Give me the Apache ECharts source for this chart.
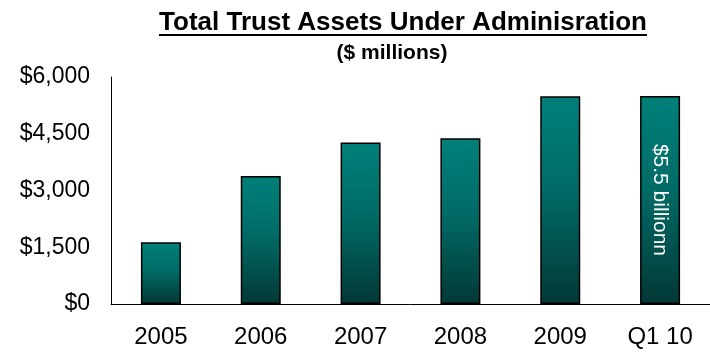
<!DOCTYPE html>
<html>
<head>
<meta charset="utf-8">
<title>Total Trust Assets Under Adminisration</title>
<script src="https://cdn.jsdelivr.net/npm/echarts@6/dist/echarts.min.js"></script>
<style>
  html, body { margin: 0; padding: 0; background: #fff; }
  #chart { width: 710px; height: 353px; }
</style>
</head>
<body>
<div id="chart"></div>
<script>
// Trust assets under administration, $ millions
const categories = ['2005', '2006', '2007', '2008', '2009', 'Q1 10'];
const assets = [1630, 3380, 4270, 4380, 5490, 5500];
const yTicks = [0, 1500, 3000, 4500, 6000];
const titleText = 'Total Trust Assets Under Adminisration';
const subtitleText = '($ millions)';
const lastBarNote = '$5.5 billionn';

const FONT = '"Liberation Sans", Arial, Helvetica, sans-serif';

const barFill = new echarts.graphic.LinearGradient(0, 0, 0, 1, [
  { offset: 0, color: '#00807a' },
  { offset: 0.45, color: '#006b66' },
  { offset: 1, color: '#033836' }
]);

const seriesData = assets.map((v, i) => {
  if (i === assets.length - 1) {
    return {
      value: v,
      label: {
        show: true,
        position: 'inside',
        rotate: -90,
        formatter: lastBarNote,
        color: '#ffffff',
        fontFamily: FONT,
        fontSize: 21
      }
    };
  }
  return v;
});

const chart = echarts.init(document.getElementById('chart'), null, { renderer: 'canvas' });

chart.setOption({
  animation: false,
  backgroundColor: '#ffffff',
  grid: { left: 111, right: -6, top: 77, bottom: 49, containLabel: false },
  graphic: [
    {
      type: 'text', x: 403, y: 23,
      style: {
        text: titleText, fill: '#000',
        font: 'bold 26px ' + FONT,
        align: 'center', verticalAlign: 'middle'
      }
    },
    {
      type: 'line',
      shape: { x1: 159, y1: 35, x2: 647, y2: 35 },
      style: { stroke: '#000', lineWidth: 2 }
    },
    {
      type: 'text', x: 392, y: 53,
      style: {
        text: subtitleText, fill: '#000',
        font: 'bold 21px ' + FONT,
        align: 'center', verticalAlign: 'middle'
      }
    }
  ],
  xAxis: {
    type: 'category',
    data: categories,
    axisLine: { show: true, lineStyle: { color: '#000', width: 1 } },
    axisTick: { show: false },
    axisLabel: { color: '#000', fontFamily: FONT, fontSize: 24, margin: 21 },
    splitLine: { show: false }
  },
  yAxis: {
    type: 'value',
    min: yTicks[0],
    max: yTicks[yTicks.length - 1],
    interval: yTicks[1] - yTicks[0],
    axisLine: { show: true, lineStyle: { color: '#000', width: 1 } },
    axisTick: { show: false },
    splitLine: { show: false },
    axisLabel: {
      color: '#000', fontFamily: FONT, fontSize: 23, margin: 21,
      formatter: v => '$' + v.toLocaleString('en-US')
    }
  },
  series: [{
    type: 'bar',
    data: seriesData,
    barWidth: 40,
    itemStyle: { color: barFill, borderColor: '#000', borderWidth: 1.5 },
    emphasis: { disabled: true }
  }]
});
</script>
</body>
</html>
